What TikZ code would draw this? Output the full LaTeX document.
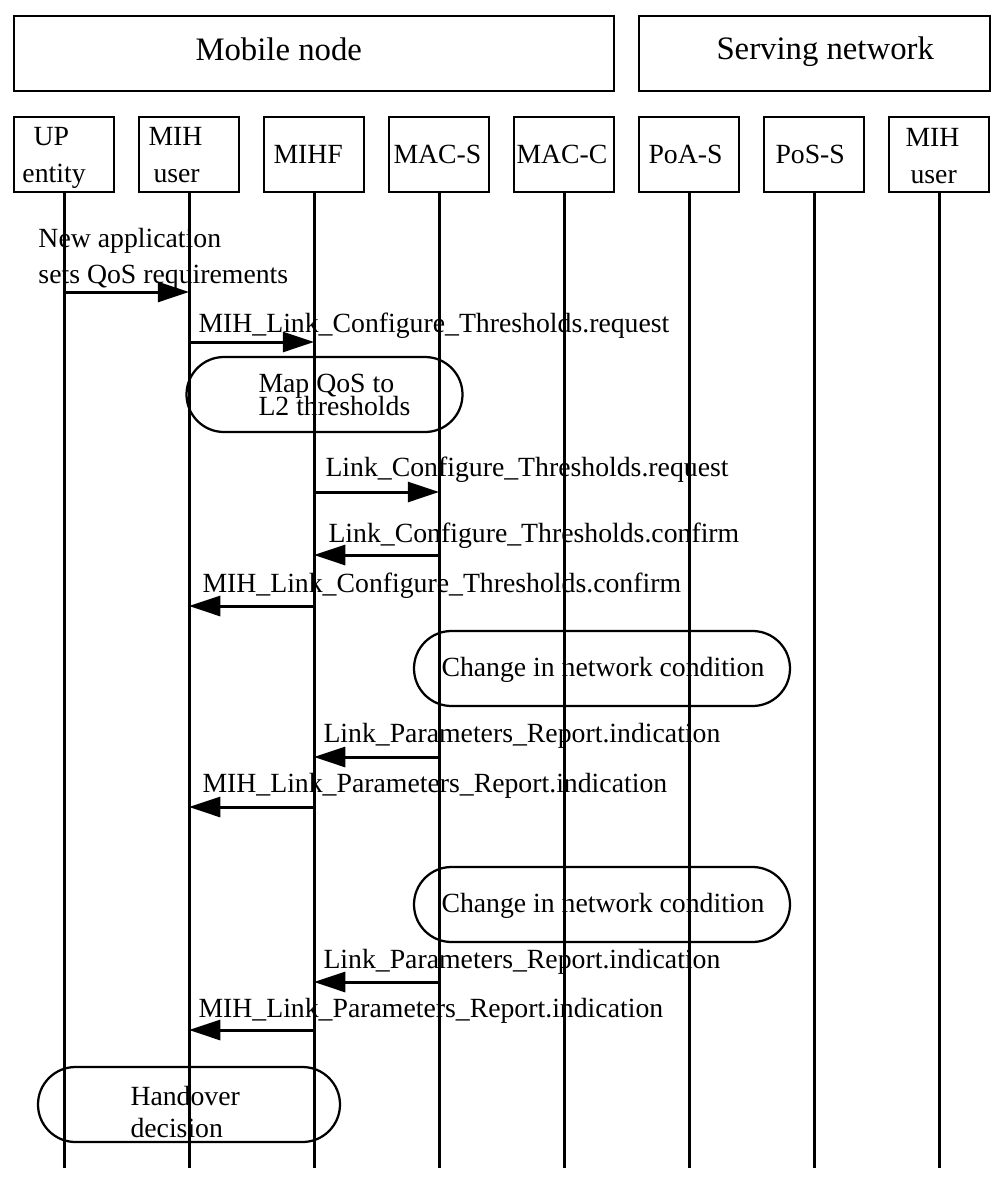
\documentclass[tikz,border=0pt]{standalone}
\usepackage{fontspec}
\setmainfont{Liberation Serif}
\usetikzlibrary{arrows.meta}

\begin{document}
\begin{tikzpicture}[x=0.4pt,y=-0.4pt,
  group/.style={draw,line width=1pt,minimum height=30pt,inner sep=0pt},
  gname/.style={anchor=base west,inner sep=0pt,font=\fontsize{13.1}{16}\selectfont},
  entity/.style={draw,line width=1pt,minimum width=40pt,minimum height=30pt,inner sep=0pt},
  ename/.style={anchor=base west,align=left,inner sep=0pt,font=\fontsize{11.1}{14.8}\selectfont},
  life/.style={line width=1.2pt},
  msg/.style={line width=1.2pt,-{Triangle[length=12.5pt,width=8pt]}},
  mlbl/.style={anchor=base west,inner sep=0pt,font=\fontsize{11.1}{13}\selectfont},
  action/.style={draw,line width=0.9pt,rounded corners=15pt,inner sep=0pt,minimum height=30pt},
  atext/.style={anchor=base west,align=left,inner sep=0pt}]
  \useasboundingbox (0,0) rectangle (1004,1187);

  % groups
  \node[group,minimum width=240pt] (mobile) at (314,53.5) {};
  \node[group,minimum width=140.4pt] (serving) at (814.5,53.5) {};
  \node[gname] (mobile-t) at (195,60) {Mobile node};
  \node[gname] (serving-t) at (716,59) {Serving network};

  % entities and lifelines
  \foreach \n/\x in {up/64,mihu/189,mihf/314,macs/439,macc/564,poas/689,poss/814,mihn/939}{
    \node[entity] (\n) at (\x,154.5) {};
    \draw[life] (\n.south) -- (\n |- 0,1168);
  }
  % base of a two-line node = last line
  \node[ename] (up-t) at (22,182) {\hspace*{4.4pt}UP\\entity};
  \node[ename] (mihu-t) at (148,182) {MIH\\\hspace*{2pt}user};
  \node[ename] (mihf-t) at (273,163) {MIHF};
  \node[ename] (macs-t) at (393,163) {MAC-S};
  \node[ename] (macc-t) at (516,163) {MAC-C};
  \node[ename] (poas-t) at (648,163) {PoA-S};
  \node[ename] (poss-t) at (775,163) {PoS-S};
  \node[ename] (mihn-t) at (905,183) {MIH\\\hspace*{2pt}user};

  % messages
  \node[mlbl] (m1a) at (38,247) {New application};
  \node[mlbl] (m1b) at (38,283) {sets QoS requirements};
  \draw[msg] (up |- 0,292) -- (mihu |- 0,292);

  \node[mlbl] (m2) at (198,332) {MIH\_Link\_Configure\_Thresholds.request};
  \draw[msg] (mihu |- 0,342) -- (mihf |- 0,342);

  \node[action,minimum width=110.4pt] (map) at (324.5,394.5) {};
  \node[atext,font=\fontsize{11.1}{9.2}\selectfont] (map-t) at (258,415) {Map QoS to\\[-2pt]L2 thresholds};

  \node[mlbl] (m3) at (325,476) {Link\_Configure\_Thresholds.request};
  \draw[msg] (mihf |- 0,492) -- (macs |- 0,492);

  \node[mlbl] (m4) at (328,542) {Link\_Configure\_Thresholds.confirm};
  \draw[msg] (macs |- 0,555) -- (mihf |- 0,555);

  \node[mlbl] (m5) at (202,592) {MIH\_Link\_Configure\_Thresholds.confirm};
  \draw[msg] (mihf |- 0,606) -- (mihu |- 0,606);

  \node[action,minimum width=150.4pt] (chg1) at (602,668.5) {};
  \node[mlbl] (chg1-t) at (441,676) {Change in network condition};

  \node[mlbl] (m6) at (323,742) {Link\_Parameters\_Report.indication};
  \draw[msg] (macs |- 0,757) -- (mihf |- 0,757);

  \node[mlbl] (m7) at (202,792) {MIH\_Link\_Parameters\_Report.indication};
  \draw[msg] (mihf |- 0,807) -- (mihu |- 0,807);

  \node[action,minimum width=150.4pt] (chg2) at (602,904.5) {};
  \node[mlbl] (chg2-t) at (441,912) {Change in network condition};

  \node[mlbl] (m8) at (323,968) {Link\_Parameters\_Report.indication};
  \draw[msg] (macs |- 0,982) -- (mihf |- 0,982);

  \node[mlbl] (m9) at (198,1017) {MIH\_Link\_Parameters\_Report.indication};
  \draw[msg] (mihf |- 0,1030) -- (mihu |- 0,1030);

  \node[action,minimum width=120.8pt] (hand) at (189,1104.5) {};
  \node[atext,font=\fontsize{11.1}{12.8}\selectfont] (hand-t) at (130,1137) {Handover\\decision};
\end{tikzpicture}
\end{document}
